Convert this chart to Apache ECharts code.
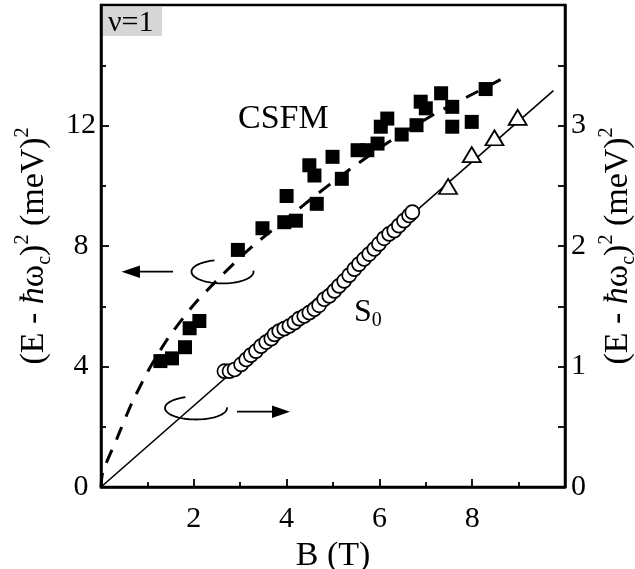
<!DOCTYPE html>
<html><head><meta charset="utf-8">
<script src="https://cdn.jsdelivr.net/npm/echarts@6/dist/echarts.min.js"></script>
<style>html,body{margin:0;padding:0;background:#fff}#c{width:635px;height:569px}</style>
</head><body><div id="c"></div>
<script>
// ---- data ----
const csfmB = [1.28,1.53,1.81,1.91,2.12,2.95,3.48,3.95,4.20,4.00,4.65,4.49,4.60,4.99,5.19,5.53,5.74,5.96,6.03,6.17,6.48,6.80,6.89,7.00,7.33,7.57,7.57,7.99,8.29];
const csfmE = [4.18,4.27,4.64,5.27,5.51,7.87,8.59,8.79,8.84,9.66,9.40,10.68,10.34,10.96,10.23,11.18,11.18,11.40,11.96,12.23,11.70,12.01,12.79,12.57,13.07,12.62,11.96,12.12,13.21];
const s0B = [2.66,2.77,2.88,3.02,3.13,3.23,3.34,3.45,3.56,3.67,3.74,3.84,3.95,4.06,4.17,4.27,4.38,4.49,4.60,4.70,4.81,4.92,5.03,5.13,5.24,5.35,5.46,5.56,5.67,5.78,5.89,5.99,6.10,6.21,6.32,6.42,6.53,6.64,6.71];
const s0E = [0.961,0.961,0.975,1.017,1.058,1.094,1.128,1.169,1.203,1.231,1.267,1.294,1.314,1.336,1.364,1.397,1.419,1.447,1.475,1.508,1.558,1.586,1.628,1.669,1.711,1.758,1.808,1.850,1.892,1.933,1.975,2.017,2.064,2.100,2.128,2.169,2.211,2.253,2.281];
const triB = [7.48,7.99,8.48,8.98];
const triE = [2.494,2.758,2.898,3.067];
const dashB = [0,0.04,0.34,0.67,1.05,1.45,2.0,2.62,3.27,4.0,4.6,5.28,6.2,7.21,7.93,8.75];
const dashE = [0,0.5,1.6,2.8,3.95,4.95,6.05,7.05,8.0,8.9,9.65,10.45,11.45,12.4,12.98,13.63];
const fitB = [0,9.75];
const fitE = [0,3.29];
const xTickLabels = [2,4,6,8];
const leftTickLabels = [0,4,8,12];
const rightTickLabels = [0,1,2,3];

const FONT = 'Liberation Serif, serif';
const zip = (a,b)=>a.map((v,i)=>[v,b[i]]);

const nameRich = {
  h: {fontStyle:'italic', fontSize:34, fontFamily:FONT, color:'#000', lineHeight:42},
  sub: {fontSize:20, fontFamily:FONT, color:'#000', verticalAlign:'bottom', lineHeight:22},
  sup: {fontSize:20, fontFamily:FONT, color:'#000', verticalAlign:'top', lineHeight:22}
};
const yName = '(E - {h|ħ}ω{sub|c}){sup|2} (meV){sup|2}';

function ellipseArc(cx, cy, rx, ry, a0, a1){
  const pts = [];
  const n = 60;
  for (let i=0;i<=n;i++){
    const a = (a0 + (a1-a0)*i/n) * Math.PI/180;
    pts.push([cx + rx*Math.cos(a), cy + ry*Math.sin(a)]);
  }
  return pts;
}

const chart = echarts.init(document.getElementById('c'));
chart.setOption({
  backgroundColor:'#fff',
  animation:false,
  grid:{left:101, right:70, top:5, bottom:82, show:true, borderColor:'#000', borderWidth:2.5,
    backgroundColor:'transparent', containLabel:false, outerBoundsMode:'none'},
  xAxis:{
    type:'value', min:0, max:10, interval:2,
    name:'B (T)', nameLocation:'middle', nameGap:34,
    nameTextStyle:{fontFamily:FONT, fontSize:34, color:'#000'},
    axisLine:{lineStyle:{color:'#000', width:2.5}},
    axisTick:{inside:true, length:8, lineStyle:{color:'#000', width:1.8}},
    minorTick:{show:true, splitNumber:2, length:5, lineStyle:{color:'#000', width:1.8}},
    splitLine:{show:false},
    axisLabel:{fontFamily:FONT, fontSize:30, color:'#000', margin:17,
      formatter:v=> xTickLabels.includes(v) ? String(v) : ''}
  },
  yAxis:[{
    type:'value', min:0, max:16, interval:4, position:'left',
    name:yName, nameLocation:'middle', nameGap:44, nameRotate:90,
    nameTextStyle:{fontFamily:FONT, fontSize:34, color:'#000', lineHeight:42, rich:nameRich},
    axisLine:{lineStyle:{color:'#000', width:2.5}},
    axisTick:{inside:true, length:8, lineStyle:{color:'#000', width:1.8}},
    minorTick:{show:true, splitNumber:2, length:5, lineStyle:{color:'#000', width:1.8}},
    splitLine:{show:false},
    axisLabel:{fontFamily:FONT, fontSize:30, color:'#000', margin:20, align:'center',
      formatter:v=> leftTickLabels.includes(v) ? String(v) : ''}
  },{
    type:'value', min:0, max:4, interval:1, position:'right',
    name:yName, nameLocation:'middle', nameGap:27, nameRotate:90,
    nameTextStyle:{fontFamily:FONT, fontSize:34, color:'#000', lineHeight:42, rich:nameRich},
    axisLine:{lineStyle:{color:'#000', width:2.5}},
    axisTick:{inside:true, length:7, lineStyle:{color:'#000', width:1.8}},
    minorTick:{show:true, splitNumber:2, length:7, lineStyle:{color:'#000', width:1.8}},
    splitLine:{show:false},
    axisLabel:{fontFamily:FONT, fontSize:30, color:'#000', margin:6,
      formatter:v=> rightTickLabels.includes(v) ? String(v) : ''}
  }],
  series:[
    {type:'line', yAxisIndex:1, data:zip(fitB,fitE), symbol:'none', lineStyle:{color:'#000', width:1.6}, z:1},
    {type:'line', yAxisIndex:0, data:zip(dashB,dashE), symbol:'none', smooth:0.25,
      lineStyle:{color:'#000', width:3, type:[14,11]}, z:1},
    {type:'scatter', yAxisIndex:0, data:zip(csfmB,csfmE), symbol:'rect', symbolSize:14,
      itemStyle:{color:'#000', opacity:1}, z:3},
    {type:'scatter', yAxisIndex:1, data:zip(s0B,s0E), symbol:'circle', symbolSize:14,
      itemStyle:{color:'#fff', borderColor:'#000', borderWidth:1.7, opacity:1}, z:3},
    {type:'scatter', yAxisIndex:1, data:zip(triB,triE), symbol:'triangle', symbolSize:[18,15],
      itemStyle:{color:'#fff', borderColor:'#000', borderWidth:1.8, opacity:1}, z:3}
  ],
  graphic:[
    {type:'rect', left:103, top:7, shape:{width:59, height:29}, style:{fill:'#d6d6d6'}, z:10},
    {type:'text', left:108, top:8, style:{text:'ν=1', fontFamily:FONT, fontSize:30, fill:'#000'}, z:11},
    {type:'text', left:238, top:102, style:{text:'CSFM', fontFamily:FONT, fontSize:34, fill:'#000'}, z:11},
    {type:'text', left:354, top:295, style:{text:'S{s|0}', fontFamily:FONT, fontSize:32, fill:'#000',
      rich:{s:{fontSize:20, fontFamily:FONT, verticalAlign:'bottom', lineHeight:20}}, lineHeight:36}, z:11},
    {type:'polyline', shape:{points:ellipseArc(222.5,271.7,31,11.7,-5,255)}, style:{stroke:'#000', lineWidth:1.8, fill:null}, z:11},
    {type:'polyline', shape:{points:ellipseArc(196,408,31,11.5,-3,250)}, style:{stroke:'#000', lineWidth:1.8, fill:null}, z:11},
    {type:'line', shape:{x1:173, y1:271.7, x2:134, y2:271.7}, style:{stroke:'#000', lineWidth:1.8}, z:11},
    {type:'polygon', shape:{points:[[121.5,271.7],[140,265.5],[140,277.9]]}, style:{fill:'#000'}, z:11},
    {type:'line', shape:{x1:237, y1:411.7, x2:278, y2:411.7}, style:{stroke:'#000', lineWidth:1.8}, z:11},
    {type:'polygon', shape:{points:[[290,411.7],[272,405.5],[272,417.9]]}, style:{fill:'#000'}, z:11}
  ]
});
</script></body></html>
